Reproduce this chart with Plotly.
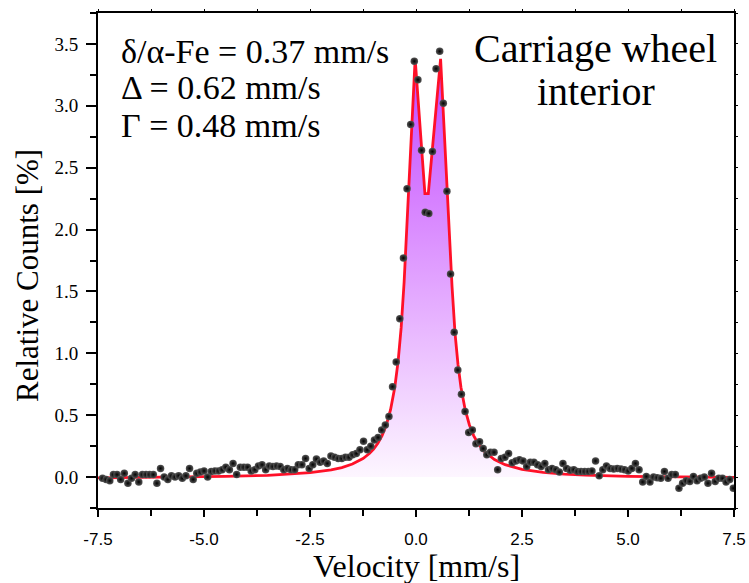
import numpy as np
import plotly.graph_objects as go

# Mössbauer spectrum: channel velocities (mm/s) and measured relative counts (%)
velocity = np.linspace(-7.393, 7.484, 175)
counts = [
    -0.01, -0.02, -0.03, 0.02, 0.02, -0.02, 0.03, -0.05, -0.01, 0.02,
    -0.04, 0.02, 0.02, 0.02, 0.02, -0.05, 0.07, 0.00, -0.02, 0.01,
    0.00, 0.01, -0.01, 0.01, 0.07, -0.02, 0.03, 0.04, 0.05, 0.00,
    0.045, 0.05, 0.05, 0.06, 0.08, 0.06, 0.11, 0.02, 0.08, 0.08,
    0.08, 0.05, 0.06, 0.09, 0.10, 0.06, 0.09, 0.085, 0.09, 0.085,
    0.06, 0.07, 0.06, 0.06, 0.10, 0.10, 0.15, 0.07, 0.10, 0.145,
    0.12, 0.13, 0.11, 0.17, 0.16, 0.15, 0.15, 0.16, 0.16, 0.18,
    0.19, 0.22, 0.29, 0.22, 0.25, 0.30, 0.32, 0.38,
    0.42, 0.49, 0.73, 0.93, 1.28, 1.77, 2.33, 2.85, 3.36, 3.21,
    2.64, 2.14, 2.13, 2.63, 3.30, 3.44, 3.02, 2.31, 1.64, 1.17, 0.865,
    0.67, 0.53, 0.36, 0.38, 0.27, 0.285, 0.23, 0.18, 0.20, 0.20,
    0.06, 0.15, 0.16, 0.19, 0.115, 0.13, 0.14, 0.13, 0.085, 0.12,
    0.12, 0.10, 0.085, 0.11, 0.06, 0.07, 0.06, 0.04, 0.11, 0.07,
    0.055, 0.06, 0.045, 0.045, 0.045, 0.045, 0.05, 0.13, 0.01, 0.06,
    0.09, 0.07, 0.065, 0.07, 0.065, 0.06, 0.05, 0.07, 0.11, 0.06,
    -0.04, 0.005, -0.04, 0.00, -0.005, -0.01, 0.045, -0.01, 0.02, 0.02,
    -0.09, -0.05, -0.03, -0.035, 0.005, -0.03, -0.01, 0.00, -0.05, 0.03,
    -0.035, -0.01, -0.01, -0.04, -0.02, -0.09,
]

# Fitted quadrupole doublet (polyline vertices)
fit_velocity = [
    -7.5, -6.0, -4.5, -3.5, -3.0, -2.5, -2.0, -1.75, -1.5, -1.25,
    -1.1, -1.0, -0.9, -0.8, -0.7, -0.6, -0.5, -0.42, -0.35, -0.28,
    -0.22, -0.02, 0.21, 0.29, 0.58, 0.78, 0.85, 0.92, 0.99, 1.06,
    1.16, 1.26, 1.36, 1.46, 1.6, 1.85, 2.1, 2.5, 3.0, 3.5,
    4.0, 5.0, 6.0, 7.0, 7.5,
]
fit_counts = [
    -0.006, -0.002, 0.005, 0.014, 0.022, 0.036, 0.058, 0.077, 0.105, 0.15,
    0.19, 0.226, 0.273, 0.335, 0.421, 0.544, 0.726, 0.941, 1.207, 1.576,
    1.995, 3.38, 2.29, 2.29, 3.38, 1.995, 1.54, 1.163, 0.91, 0.726,
    0.544, 0.421, 0.335, 0.273, 0.21, 0.141, 0.10, 0.063, 0.038, 0.024,
    0.015, 0.006, 0.001, -0.002, -0.003,
]

x_ticks = [-7.5, -5.0, -2.5, 0.0, 2.5, 5.0, 7.5]
x_tick_text = ["-7.5", "-5.0", "-2.5", "0.0", "2.5", "5.0", "7.5"]
x_minor = [-6.25, -3.75, -1.25, 1.25, 3.75, 6.25]
y_ticks = [0.0, 0.5, 1.0, 1.5, 2.0, 2.5, 3.0, 3.5]
y_tick_text = ["0.0", "0.5", "1.0", "1.5", "2.0", "2.5", "3.0", "3.5"]
y_minor = [-0.25, 0.25, 0.75, 1.25, 1.75, 2.25, 2.75, 3.25, 3.75]

fit_params = ["δ/α-Fe = 0.37 mm/s", "Δ = 0.62 mm/s", "Γ = 0.48 mm/s"]
sample_name = ["Carriage wheel", "interior"]

SERIF = "Liberation Serif, Times New Roman, serif"
SANS = "Liberation Sans, Arial, sans-serif"

fig = go.Figure()

fig.add_trace(go.Scatter(
    x=fit_velocity, y=fit_counts, mode="lines",
    line=dict(color="rgb(255,16,40)", width=2.8),
    fill="tozeroy",
    fillgradient=dict(
        type="vertical",
        colorscale=[[0.0, "rgb(253,246,255)"], [1.0, "rgb(194,68,255)"]],
        start=0.0, stop=3.4,
    ),
    showlegend=False, hoverinfo="skip",
))

fig.add_trace(go.Scatter(
    x=velocity, y=counts, mode="markers",
    marker=dict(size=7.5, color="rgb(85,85,85)",
                gradient=dict(type="radial", color="black"),
                line=dict(width=0)),
    showlegend=False,
))

# empty trace carrying the short mirrored ticks on top/right
fig.add_trace(go.Scatter(x=[], y=[], xaxis="x2", yaxis="y2", showlegend=False))

axis_common = dict(showgrid=False, zeroline=False, showline=True,
                   linecolor="black", linewidth=2, mirror=True,
                   ticks="outside", tickcolor="black", tickwidth=1.5,
                   automargin=False)

fig.update_layout(
    template="none",
    width=749, height=583,
    margin=dict(l=98, r=15, t=13, b=75, autoexpand=False),
    paper_bgcolor="white", plot_bgcolor="white",
    xaxis=dict(range=[-7.5, 7.5], tickvals=x_ticks, ticktext=x_tick_text,
               ticklen=7, tickfont=dict(family=SANS, size=17, color="black"),
               ticklabelstandoff=8,
               minor=dict(tickvals=x_minor, ticks="outside", ticklen=6,
                          tickwidth=1.5, tickcolor="black"),
               **axis_common),
    yaxis=dict(range=[-0.25, 3.75], tickvals=y_ticks, ticktext=y_tick_text,
               ticklen=10, tickfont=dict(family=SERIF, size=19, color="black"),
               ticklabelstandoff=4,
               minor=dict(tickvals=y_minor, ticks="outside", ticklen=6,
                          tickwidth=1.5, tickcolor="black"),
               **axis_common),
    xaxis2=dict(overlaying="x", side="top", anchor="y", range=[-7.5, 7.5],
                tickvals=x_ticks + x_minor, ticks="outside", ticklen=3,
                tickwidth=1.2, tickcolor="black", showticklabels=False,
                showgrid=False, zeroline=False, showline=False, automargin=False),
    yaxis2=dict(overlaying="y", side="right", anchor="x", range=[-0.25, 3.75],
                tickvals=y_ticks + y_minor, ticks="outside", ticklen=3,
                tickwidth=1.2, tickcolor="black", showticklabels=False,
                showgrid=False, zeroline=False, showline=False, automargin=False),
)

annotations = []
for text, ypix in zip(fit_params, [51, 88, 125]):
    annotations.append(dict(
        text=text, xref="paper", yref="paper",
        x=(119 - 98) / 636, y=(508 - ypix) / 495,
        xanchor="left", yanchor="middle", showarrow=False,
        font=dict(family=SERIF, size=34, color="black"),
    ))
for text, ypix in zip(sample_name, [48, 91]):
    annotations.append(dict(
        text=text, xref="paper", yref="paper",
        x=(595.5 - 98) / 636, y=(508 - ypix) / 495,
        xanchor="center", yanchor="middle", showarrow=False,
        font=dict(family=SERIF, size=40, color="black"),
    ))
annotations.append(dict(
    text="Velocity [mm/s]", xref="paper", yref="paper",
    x=0.5, y=(508 - 566) / 495, xanchor="center", yanchor="middle",
    showarrow=False, font=dict(family=SERIF, size=32, color="black"),
))
annotations.append(dict(
    text="Relative Counts [%]", xref="paper", yref="paper",
    x=(27 - 98) / 636, y=(508 - 276) / 495, xanchor="center", yanchor="middle",
    textangle=-90, showarrow=False,
    font=dict(family=SERIF, size=31, color="black"),
))
fig.update_layout(annotations=annotations)

fig.write_html("out.html")
